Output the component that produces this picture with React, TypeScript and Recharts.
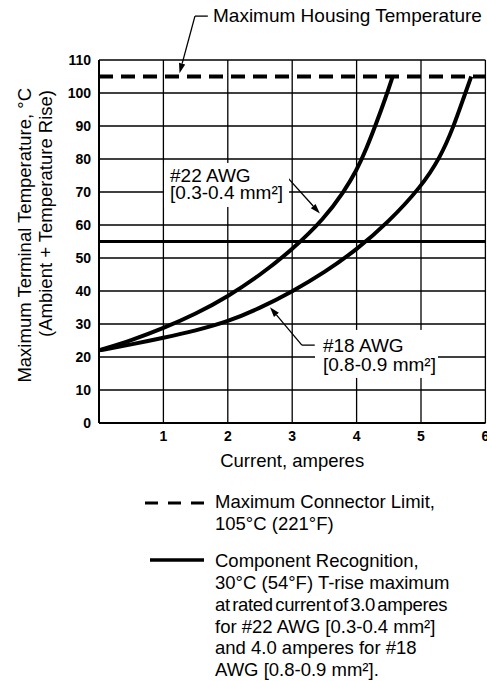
import React from 'react';
import { CartesianGrid, Line, LineChart, ReferenceDot, ReferenceLine, XAxis, YAxis } from 'recharts';

const FONT = '"Liberation Sans", Arial, Helvetica, sans-serif';

// axis ticks
const currentTicks = [1, 2, 3, 4, 5, 6];
const tempTicks = [0, 10, 20, 30, 40, 50, 60, 70, 80, 90, 100, 110];

// #22 AWG [0.3-0.4 mm²]
const awg22Current = [0, 0.5, 1, 1.5, 2, 2.5, 3, 3.5, 3.8, 4, 4.15, 4.3, 4.45, 4.56];
const awg22Temp = [22, 25, 28.7, 33, 38.3, 44.8, 52.5, 62, 70, 76.5, 83, 90.5, 98.5, 105];

// #18 AWG [0.8-0.9 mm²]
const awg18Current = [0, 0.5, 1, 1.5, 2, 2.5, 3, 3.5, 4, 4.5, 5, 5.3, 5.5, 5.67, 5.78];
const awg18Temp = [22, 23.8, 25.8, 28, 30.7, 34.8, 39.8, 45.6, 52.5, 61, 71.5, 80.5, 89.5, 99, 105];

// limits
const connectorLimit = 105;
const tRiseLimit = 55;

const toRows = (xs: number[], ys: number[]) => xs.map((current, i) => ({ current, temp: ys[i] }));
const awg22 = toRows(awg22Current, awg22Temp);
const awg18 = toRows(awg18Current, awg18Temp);

const leader = (arrow: boolean) => (props: any) => {
  const { x1, y1, x2, y2 } = props;
  if (![x1, y1, x2, y2].every(Number.isFinite)) return <g />;
  const a = Math.atan2(y2 - y1, x2 - x1);
  const len = 10;
  const half = 3.2;
  const bx = x2 - len * Math.cos(a);
  const by = y2 - len * Math.sin(a);
  const px = -Math.sin(a) * half;
  const py = Math.cos(a) * half;
  return (
    <g>
      <line x1={x1} y1={y1} x2={arrow ? bx : x2} y2={arrow ? by : y2} stroke='#000' strokeWidth={1.3} />
      {arrow && <polygon points={`${x2},${y2} ${bx + px},${by + py} ${bx - px},${by - py}`} fill='#000' />}
    </g>
  );
};

const textBox =
  (lines: string[], w: number, h: number, padX: number, base: number, lineH: number, box = true) =>
  (props: any) => {
    const { cx, cy } = props;
    if (!Number.isFinite(cx) || !Number.isFinite(cy)) return <g />;
    return (
      <g>
        {box && <rect x={cx} y={cy} width={w} height={h} fill='#fff' />}
        {lines.map((t, i) => (
          <text key={i} x={cx + padX} y={cy + base + i * lineH} fontSize={19} fontFamily={FONT} fill='#000'>
            {t}
          </text>
        ))}
      </g>
    );
  };

const YTitle = (props: any) => {
  const vb = props.viewBox || { x: 0, y: 60 };
  const top = vb.y + 28;
  return (
    <g fontFamily={FONT} fontSize={18.5} fill='#000'>
      <text transform={`translate(${vb.x + 31},${top}) rotate(-90)`} textAnchor='end'>
        Maximum Terminal Temperature, °C
      </text>
      <text transform={`translate(${vb.x + 52},${top + 2}) rotate(-90)`} textAnchor='end'>
        (Ambient + Temperature Rise)
      </text>
    </g>
  );
};

const LegendBlock = () => (
  <svg width={487} height={201} style={{ position: 'absolute', left: 0, top: 480 }} fontFamily={FONT} fontSize={18.5}>
    <line x1={145} y1={23} x2={206} y2={23} stroke='#000' strokeWidth={3} strokeDasharray='13 10' />
    <text x={215} y={28}>Maximum Connector Limit,</text>
    <text x={215} y={50}>105°C (221°F)</text>
    <line x1={150} y1={80} x2={204} y2={80} stroke='#000' strokeWidth={3.5} />
    <text x={215} y={87}>Component Recognition,</text>
    <text x={215} y={109}>30°C (54°F) T-rise maximum</text>
    <text x={215} y={131} wordSpacing={-2.5} letterSpacing={-0.3}>at rated current of 3.0 amperes</text>
    <text x={215} y={153}>for #22 AWG [0.3-0.4 mm²]</text>
    <text x={215} y={174}>and 4.0 amperes for #18</text>
    <text x={215} y={196}>AWG [0.8-0.9 mm²].</text>
  </svg>
);

export default function App() {
  return (
    <div style={{ position: 'relative', width: 487, height: 681, overflow: 'hidden', background: '#fff', fontFamily: FONT }}>
      <style>{'body{margin:0;overflow:hidden;}'}</style>
      <LineChart width={560} height={480} margin={{ top: 60, right: 74.6, bottom: 27, left: 0 }}>
        <CartesianGrid stroke='#000' strokeWidth={1.3} />
        <XAxis
          type='number'
          dataKey='current'
          domain={[0, 6]}
          ticks={currentTicks}
          allowDataOverflow
          height={30}
          tickLine={false}
          axisLine={{ stroke: '#000', strokeWidth: 2 }}
          tick={{ fill: '#000', fontSize: 14, fontWeight: 'bold' }}
          label={{ value: 'Current, amperes', position: 'bottom', offset: 1, fill: '#000', fontSize: 18.5 }}
        />
        <YAxis
          type='number'
          domain={[0, 110]}
          ticks={tempTicks}
          allowDataOverflow
          width={99}
          tickLine={false}
          axisLine={{ stroke: '#000', strokeWidth: 2 }}
          tick={{ fill: '#000', fontSize: 14, fontWeight: 'bold' }}
          label={{ content: YTitle }}
        />
        <ReferenceLine y={connectorLimit} stroke='#000' strokeWidth={4} strokeDasharray='14 8' />
        <ReferenceLine y={tRiseLimit} stroke='#000' strokeWidth={3} />
        <Line data={awg22} dataKey='temp' type='basis' stroke='#000' strokeWidth={4} dot={false} isAnimationActive={false} />
        <Line data={awg18} dataKey='temp' type='basis' stroke='#000' strokeWidth={4} dot={false} isAnimationActive={false} />

        {/* Maximum Housing Temperature */}
        <ReferenceLine segment={[{ x: 1.69, y: 123.3 }, { x: 1.49, y: 123.3 }]} ifOverflow='visible' shape={leader(false)} />
        <ReferenceLine segment={[{ x: 1.49, y: 123.3 }, { x: 1.25, y: 106 }]} ifOverflow='visible' shape={leader(true)} />
        <ReferenceDot x={1.77} y={121.5} ifOverflow='visible' shape={textBox(['Maximum Housing Temperature'], 0, 0, 0, 0, 0, false)} />

        {/* #22 AWG */}
        <ReferenceDot x={1.01} y={78.8} ifOverflow='visible' shape={textBox(['#22 AWG', '[0.3-0.4 mm²]'], 125, 44, 6, 19, 17)} />
        <ReferenceLine segment={[{ x: 2.58, y: 75.2 }, { x: 2.89, y: 75.2 }]} ifOverflow='visible' shape={leader(false)} />
        <ReferenceLine segment={[{ x: 2.89, y: 75.2 }, { x: 3.43, y: 63.5 }]} ifOverflow='visible' shape={leader(true)} />

        {/* #18 AWG */}
        <ReferenceDot x={3.354} y={28.2} ifOverflow='visible' shape={textBox(['#18 AWG', '[0.8-0.9 mm²]'], 123, 48, 8, 22, 19)} />
        <ReferenceLine segment={[{ x: 3.35, y: 23.6 }, { x: 3.15, y: 23.6 }]} ifOverflow='visible' shape={leader(false)} />
        <ReferenceLine segment={[{ x: 3.15, y: 23.6 }, { x: 2.655, y: 35.1 }]} ifOverflow='visible' shape={leader(true)} />
      </LineChart>
      <LegendBlock />
    </div>
  );
}
